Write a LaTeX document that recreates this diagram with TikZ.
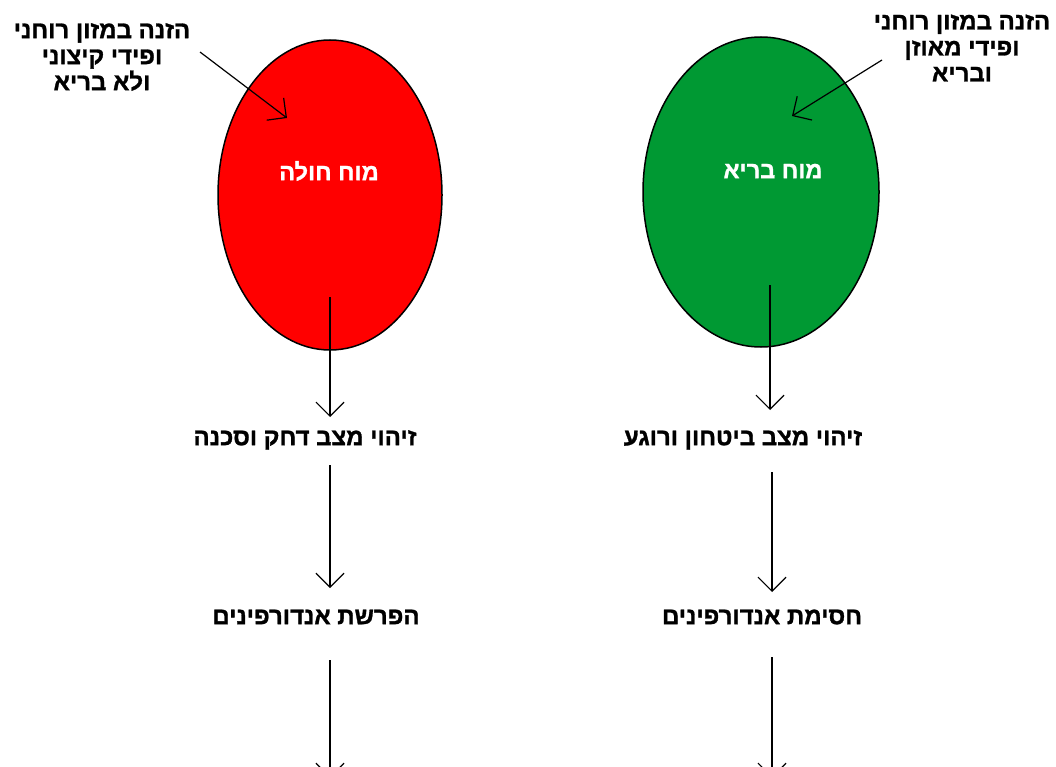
\documentclass[tikz,border=0pt]{standalone}
\usepackage{fontspec}
\newfontfamily\hebfont[Script=Hebrew, UprightFont={* Bold}, FakeBold=1.2]{Liberation Sans}
\TeXXeTstate=1
\usetikzlibrary{arrows.meta}
\usetikzlibrary{shapes.geometric}
\definecolor{brainred}{RGB}{255,0,0}
\definecolor{braingreen}{RGB}{0,153,51}
\tikzset{
  lbl/.style={font=\hebfont\fontsize{24}{26}\selectfont, align=center, inner sep=0pt, text=black},
  brainlbl/.style={font=\hebfont\fontsize{23.5}{26}\selectfont, inner sep=0pt, text=white},
  brain/.style={draw=black, line width=1.5pt, ellipse},
  arr/.style={line width=1.2pt, -{Straight Barb[length=14pt, width=28pt, line width=1.2pt]}},
}
\begin{document}
\begin{tikzpicture}[x=1pt, y=-1pt]
\useasboundingbox[fill=white] (0,0) rectangle (1056,767);
% ellipses
\node[brain, fill=brainred, minimum width=224pt, minimum height=310pt] (sick) at (330,195) {};
\node[brain, fill=braingreen, minimum width=236pt, minimum height=310pt] (healthy) at (761,192) {};
\node[brainlbl] (sickt) at (329,171) {\beginR מוח חולה\endR};
\node[brainlbl] (healthyt) at (773,171) {\beginR מוח בריא\endR};
% top texts
\node[lbl] (feedL) at (102,57) {\beginR הזנה במזון רוחני\endR\\\beginR ופידי קיצוני\endR\\\beginR ולא בריא\endR};
\node[lbl] (feedR) at (962,48) {\beginR הזנה במזון רוחני\endR\\\beginR ופידי מאוזן\endR\\\beginR ובריא\endR};
% labels
\node[lbl] (detL) at (305,440) {\beginR זיהוי מצב דחק וסכנה\endR};
\node[lbl] (detR) at (743,440) {\beginR זיהוי מצב ביטחון ורוגע\endR};
\node[lbl] (endL) at (316,617) {\beginR הפרשת אנדורפינים\endR};
\node[lbl] (endR) at (762,617) {\beginR חסימת אנדורפינים\endR};
% coordinates
\coordinate (aLs) at (200,52);
\coordinate (aLe) at (287,118);
\coordinate (aRs) at (882,60);
\coordinate (aRe) at (792,116);
\coordinate (l1s) at (330,297);
\coordinate (l1e) at (330,417);
\coordinate (r1s) at (770,285);
\coordinate (r1e) at (770,410);
\coordinate (l2s) at (330,465);
\coordinate (l2e) at (330,588);
\coordinate (r2s) at (772,472);
\coordinate (r2e) at (772,592);
\coordinate (l3s) at (330,660);
\coordinate (l3e) at (330,778);
\coordinate (r3s) at (772,657);
\coordinate (r3e) at (772,778);
\draw[arr] (aLs) -- (aLe);
\draw[arr] (aRs) -- (aRe);
\draw[arr] (l1s) -- (l1e);
\draw[arr] (r1s) -- (r1e);
\draw[arr] (l2s) -- (l2e);
\draw[arr] (r2s) -- (r2e);
\draw[arr] (l3s) -- (l3e);
\draw[arr] (r3s) -- (r3e);
\end{tikzpicture}
\end{document}
